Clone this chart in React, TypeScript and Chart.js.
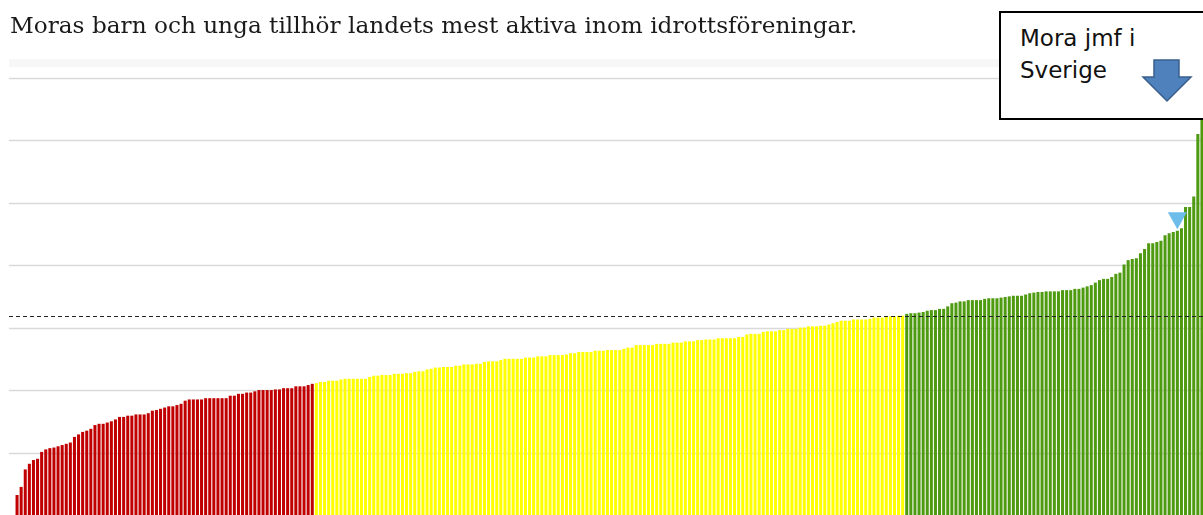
import React, { useEffect, useRef } from "react";
import { Chart, registerables } from "chart.js";

Chart.register(...registerables);

const TITLE = "Moras barn och unga tillhör landets mest aktiva inom idrottsföreningar.";
const BOX_LINES = ["Mora jmf i", "Sverige"];

// Lowest quartile (red)
const RED_VALUES = [
  3.2, 4.5, 7.3, 8.2, 8.8, 9.0, 10.1, 10.5, 10.7, 10.8, 11.0, 11.2, 11.4, 11.6, 12.5, 12.9, 13.3, 13.5,
  13.8, 14.4, 14.6, 14.6, 14.8, 15.0, 15.3, 15.7, 15.7, 15.9, 15.9, 16.1, 16.1, 16.1, 16.3, 16.7, 16.8,
  17.0, 17.2, 17.4, 17.4, 17.6, 17.8, 18.3, 18.5, 18.5, 18.5, 18.5, 18.7, 18.7, 18.7, 18.7, 18.7, 18.7,
  19.1, 19.1, 19.4, 19.4, 19.6, 19.6, 19.8, 20.0, 20.0, 20.0, 20.0, 20.1, 20.1, 20.3, 20.3, 20.3, 20.6,
  20.6, 20.6, 20.8, 21.0,
];

// Middle half (yellow)
const YELLOW_VALUES = [
  21.1, 21.3, 21.3, 21.5, 21.5, 21.5, 21.7, 21.8, 21.8, 21.8, 21.8, 21.8, 21.8, 22.1, 22.3, 22.3, 22.4,
  22.4, 22.4, 22.6, 22.6, 22.6, 22.7, 22.7, 22.9, 23.0, 23.0, 23.3, 23.4, 23.6, 23.6, 23.7, 23.7, 23.7,
  23.9, 23.9, 24.1, 24.1, 24.1, 24.2, 24.2, 24.5, 24.6, 24.6, 24.6, 24.8, 25.0, 25.0, 25.0, 25.0, 25.0,
  25.2, 25.2, 25.2, 25.4, 25.4, 25.4, 25.6, 25.6, 25.6, 25.6, 25.7, 25.9, 25.9, 26.1, 26.1, 26.1, 26.1,
  26.3, 26.3,
  26.3, 26.4, 26.4, 26.4, 26.4, 26.6, 26.8, 26.8, 27.2, 27.2, 27.2, 27.2, 27.2, 27.4, 27.4, 27.4, 27.4,
  27.6, 27.6, 27.6, 27.8, 27.8, 27.8, 28.0, 28.0, 28.1, 28.1, 28.1, 28.3, 28.3, 28.3, 28.3, 28.3, 28.5,
  28.5, 28.9, 29.0, 29.0, 29.0, 29.3, 29.4, 29.4, 29.4, 29.6, 29.6, 29.8, 29.8, 29.8, 30.0, 30.0, 30.2,
  30.2, 30.2, 30.3, 30.3, 30.5, 30.7, 30.9, 31.1, 31.1, 31.1, 31.3, 31.3, 31.3, 31.3, 31.4, 31.6, 31.6,
  31.6, 31.8, 31.8, 31.8, 31.9, 31.9,
];

// Top quartile (green)
const GREEN_VALUES = [
  32.2, 32.3, 32.3, 32.4, 32.5, 32.7, 32.8, 32.8, 33.0, 33.0, 33.4, 33.9, 34.0, 34.2, 34.2, 34.4, 34.4,
  34.4, 34.4, 34.6, 34.7, 34.7, 34.7, 34.8, 34.9, 35.0, 35.1, 35.1, 35.1, 35.3, 35.5, 35.6, 35.7, 35.7,
  35.8, 35.8, 35.8, 35.8, 36.0, 36.0, 36.0, 36.2, 36.2,
  36.4, 36.6, 36.8, 37.2, 37.6, 37.8, 37.8, 38.1, 38.6, 38.8, 40.1, 40.8, 41.0, 41.1, 41.9, 42.6, 43.5,
  43.5, 43.7, 43.9, 44.8, 45.1, 45.3, 45.5, 45.9, 49.3, 49.3, 51.0, 61.0, 70.0,
];

const MORA_RANK = 284; // 1-based position of Mora among all municipalities
const SWEDEN_AVERAGE = 31.9;
const Y_MAX = 73;
const GRID_STEP = 10;

const COLORS = {
  red: "#c00000",
  yellow: "#ffff00",
  green: "#4e9a10",
};

export default function App() {
  const canvasRef = useRef<HTMLCanvasElement | null>(null);

  useEffect(() => {
    document.body.style.margin = "0";
    const canvas = canvasRef.current;
    if (!canvas) return;

    const values = [...RED_VALUES, ...YELLOW_VALUES, ...GREEN_VALUES];
    const labels = values.map((_, i) => String(i + 1));
    const fill = values.map((_, i) =>
      i < RED_VALUES.length ? COLORS.red : i < RED_VALUES.length + YELLOW_VALUES.length ? COLORS.yellow : COLORS.green
    );

    const overlay = {
      id: "overlay",
      beforeDatasetsDraw(chart: any) {
        const { ctx, chartArea, scales } = chart;
        const y = scales.y;
        ctx.save();
        ctx.fillStyle = "#f7f7f7";
        ctx.fillRect(9, chartArea.top, chart.width, 8);
        ctx.strokeStyle = "#d9d9d9";
        ctx.lineWidth = 1.5;
        for (let v = GRID_STEP; v <= Y_MAX; v += GRID_STEP) {
          const py = Math.round(y.getPixelForValue(v)) + 0.5;
          ctx.beginPath();
          ctx.moveTo(9, py);
          ctx.lineTo(chart.width, py);
          ctx.stroke();
        }
        ctx.restore();
      },
      afterDatasetsDraw(chart: any) {
        const { ctx, scales } = chart;
        ctx.save();
        const ay = Math.round(scales.y.getPixelForValue(SWEDEN_AVERAGE)) + 0.5;
        ctx.strokeStyle = "#222";
        ctx.lineWidth = 1;
        ctx.setLineDash([4, 3]);
        ctx.beginPath();
        ctx.moveTo(9, ay);
        ctx.lineTo(chart.width, ay);
        ctx.stroke();
        ctx.setLineDash([]);
        const el = chart.getDatasetMeta(0).data[MORA_RANK - 1];
        if (el) {
          const tipY = el.y - 1.5;
          ctx.fillStyle = "#6cbde9";
          ctx.beginPath();
          ctx.moveTo(el.x, tipY);
          ctx.lineTo(el.x - 9.5, tipY - 17);
          ctx.lineTo(el.x + 9.5, tipY - 17);
          ctx.closePath();
          ctx.fill();
        }
        ctx.restore();
      },
    };

    const chart = new Chart(canvas, {
      type: "bar",
      data: {
        labels,
        datasets: [
          {
            data: values,
            backgroundColor: fill,
            borderWidth: 0,
            barPercentage: 1,
            categoryPercentage: 0.74,
          },
        ],
      },
      options: {
        animation: false,
        responsive: false,
        devicePixelRatio: 1,
        layout: { padding: { top: 59, left: 15, right: 0, bottom: 0 } },
        plugins: { legend: { display: false }, tooltip: { enabled: false }, title: { display: false } },
        scales: {
          x: { display: false, offset: true },
          y: { display: false, min: 0, max: Y_MAX, ticks: { stepSize: GRID_STEP } },
        },
      },
      plugins: [overlay],
    });
    return () => chart.destroy();
  }, []);

  return (
    <div style={{ position: "relative", width: 1203, height: 515, overflow: "hidden", background: "#fff" }}>
      <canvas ref={canvasRef} width={1204} height={515} style={{ position: "absolute", left: 0, top: 0 }} />
      <div
        style={{
          position: "absolute",
          left: 10,
          top: 10,
          fontFamily: "'DejaVu Serif', serif",
          fontSize: 23.2,
          lineHeight: "30px",
          color: "#1a1a1a",
          whiteSpace: "nowrap",
        }}
      >
        {TITLE}
      </div>
      <div
        style={{
          position: "absolute",
          left: 999,
          top: 11,
          width: 220,
          height: 105,
          border: "2px solid #000",
          background: "#fff",
          boxSizing: "content-box",
        }}
      >
        {BOX_LINES.map((line, i) => (
          <div
            key={line}
            style={{
              position: "absolute",
              left: 19,
              top: 9 + i * 32,
              fontFamily: "'DejaVu Sans', sans-serif",
              fontSize: 23,
              lineHeight: "32px",
              color: "#111",
              whiteSpace: "nowrap",
            }}
          >
            {line}
          </div>
        ))}
        <svg width={60} height={50} style={{ position: "absolute", left: 138, top: 45 }} viewBox="0 0 60 50">
          <polygon
            points="15,2 40,2 40,19 52,19 28,43 4,19 15,19"
            fill="#4f81bd"
            stroke="#3a5f8c"
            strokeWidth={1.5}
          />
        </svg>
      </div>
    </div>
  );
}
